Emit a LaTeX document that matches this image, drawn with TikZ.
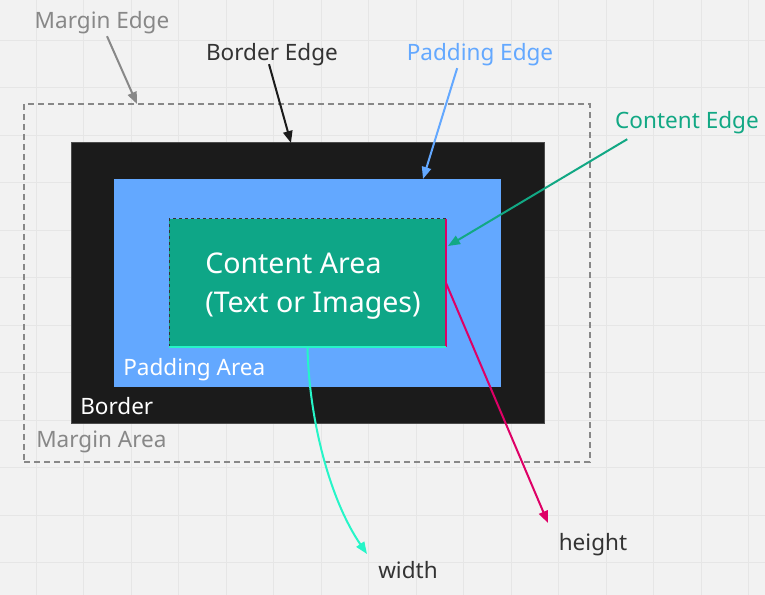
\documentclass[tikz,border=0pt]{standalone}
\usepackage{fontspec}
\setmainfont{Noto Sans}
\definecolor{canvasgray}{RGB}{242, 242, 242}
\definecolor{gridgray}{RGB}{230, 230, 230}
\definecolor{margingray}{RGB}{136, 136, 136}
\definecolor{borderblack}{RGB}{27, 27, 27}
\definecolor{paddingblue}{RGB}{99, 168, 255}
\definecolor{contentgreen}{RGB}{14, 166, 135}
\definecolor{edgegreen}{RGB}{18, 168, 132}
\definecolor{heightpink}{RGB}{222, 0, 102}
\definecolor{widthaqua}{RGB}{38, 245, 200}
\definecolor{labeldark}{RGB}{51, 51, 51}
\usetikzlibrary{
    arrows.meta,
    positioning,
    calc
}
\tikzset{
    edgelabel/.style={font=\fontsize{16.9}{20}\selectfont, inner sep=2pt},
    arealabel/.style={font=\fontsize{16.9}{20}\selectfont, anchor=west, inner sep=0pt},
    pointer/.style={-{Triangle[length=9pt,width=7pt]}, line width=1.5pt},
    boxlayer/.style={rectangle, inner sep=0pt, outer sep=0pt}
}

\begin{document}
\begin{tikzpicture}[x=0.75pt, y=-0.75pt]
            \useasboundingbox (0,0) rectangle (765,595);
            % Canvas and grid
            \fill[canvasgray] (0,0) rectangle (765,595);
            \foreach \i in {0,...,15} {
                \draw[gridgray, line width=0.75pt] ({36+47.5*\i},0) -- ++(0,595);
            }
            \foreach \i in {0,...,11} {
                \draw[gridgray, line width=0.75pt] (0,{40.5+47.5*\i}) -- ++(765,0);
            }

            % Box layers
            \node[boxlayer, draw=margingray, line width=1.1pt, dash pattern=on 4.5pt off 3pt,
                  minimum width=424.5pt, minimum height=268.5pt] (margin) at (307,283) {};
            \node[boxlayer, fill=borderblack, draw=gray!60!black, line width=0.75pt,
                  minimum width=354.75pt, minimum height=210.75pt] (border) at (307.5,283.5) {};
            \node[boxlayer, fill=paddingblue,
                  minimum width=290.25pt, minimum height=156pt] (padding) at (307.5,283) {};
            \node[boxlayer, fill=contentgreen,
                  minimum width=207.75pt, minimum height=96pt] (content) at (307.5,283) {};
            \draw[labeldark, line width=0.75pt, dash pattern=on 2.5pt off 2pt]
                (content.south west) -- (content.north west) -- (content.north east);
            \draw[heightpink, line width=1.5pt] (content.north east) -- (content.south east);
            \draw[widthaqua, line width=1.5pt] (content.south west) -- (content.south east);

            % Area texts
            \node[anchor=west, align=left, inner sep=0pt, text=white,
                  font=\fontsize{21.4}{29.25}\selectfont] (ctext) at (205,286)
                  {Content Area\\(Text or Images)};
            \node[arealabel, text=white] (parea) at (123,370) {Padding Area};
            \node[arealabel, text=white] (barea) at (80,406) {Border};
            \node[arealabel, text=margingray] (marea) at (36,442) {Margin Area};

            % Edge labels
            \node[edgelabel, text=margingray] (mlabel) at (102,23) {Margin Edge};
            \node[edgelabel, text=labeldark] (blabel) at (272,55) {Border Edge};
            \node[edgelabel, text=paddingblue] (plabel) at (480,55) {Padding Edge};
            \node[edgelabel, text=edgegreen] (clabel) at (687,123) {Content Edge};
            \node[edgelabel, text=labeldark] (wlabel) at (408,570) {width};
            \node[edgelabel, text=labeldark] (hlabel) at (593,545) {height};

            \coordinate (wtip) at (367,554);
            \coordinate (htip) at (548,523);

            % Pointers
            \draw[pointer, margingray] ($(mlabel.south)+(5,-1)$) -- ($(margin.north west)+(113,0)$);
            \draw[pointer, borderblack] ($(blabel.south)+(-3,-5)$) -- ($(border.north west)+(220,0)$);
            \draw[pointer, paddingblue] ($(plabel.south west)!0.35!(plabel.south east)+(0,-1)$)
                -- ($(padding.north west)+(309,0)$);
            \draw[pointer, edgegreen] ($(clabel.south west)!0.1!(clabel.south east)+(0,2)$)
                -- ($(content.north east)+(2,27)$);
            \draw[pointer, widthaqua] (content.south) .. controls (309,420) and (330,500) .. (wtip);
            \draw[pointer, heightpink] (content.east) -- (htip);
        \end{tikzpicture}
\end{document}
